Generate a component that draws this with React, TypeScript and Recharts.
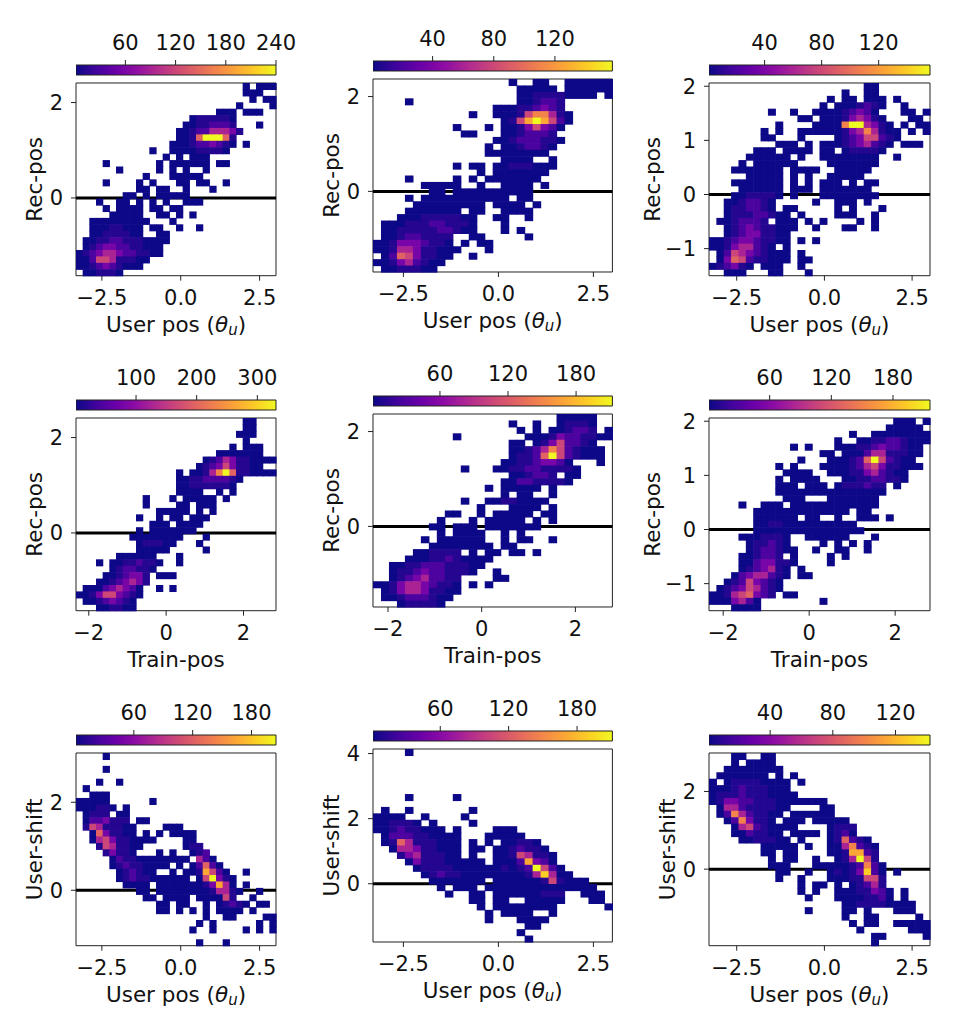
import React from 'react';
import { ScatterChart, Scatter, XAxis, YAxis, ReferenceLine, ReferenceArea } from 'recharts';

// histogram rows, top to bottom, 30 columns each
// token "c:levels" = run of levels from column c (0 = lowest bin, a = top), "a-b" = run of lowest bins
const userRecA = [
  '25 27-29', '25-27', '26 28-29', '24 29', '21-23 25-27', '17:0111110', '16:00112221 27', '15:0012244431',
  '15:0016aaa61', '14:0001223210 25', '11 14:000011110', '13 15 17-19', '4 12 14-19 21-22', '6 12 14 16 19',
  '10 14-18', '4 9 11 15-16 18-19 22', '9-10 12-13 16 20', '7-8 10 12-16', '3 6-7 9 11 13 16-18',
  '4 6-9 11-12 14-15', '5-9 12-13 15 17', '2-10 14', '2:00011000 11-12 15 18', '2:00111100 12-13',
  '1:0011221110000', '1:012332211000', '0:0123443221100', '0:00255411100', '0:0012321000', '1:001110',
];
const userRecB = [
  '17 20-21 24-29', '18-22 24-29', '18:001111 24-27 29', '4 18:001221', '15:000112321', '12 15:0001577410',
  '16:0158a8520', '10 14 16:00135320', '11-12 16:0012221', '15:001222110', '14 16:0012210', '14-21', '16-19 22',
  '10 12-13 15:00111000', '13 15-21', '4 10 12 14-20', '6-10 13 16-19 21', '7-8 10-19', '4 6-16 18-19',
  '5-13 15-18 20', '4-10 12-13 16-19', '3:0001111100 15-16 19', '1:000111221110 16', '1:001111122100 16 18',
  '1:001221111 12-13 19', '0:0013332110 11 13-14', '0:00144311000 14', '1:026531100 12', '0:001342100', '1:0011100',
];
const userRecC = [
  '21-22', '18 21-22', '16 18-19 21-23 25', '15 17:0001210 26', '8 11 14:000012320 26-27 29', '12-13 15:000134310 27-28',
  '9 14:00007aa4310 26 28-29', '7 9 12-16 17:0134741 24-25 27 29', '7-8 12 17:012355210', '9-11 13 15:0001234210 26-28',
  '6-8 10-13 15-16 18:011110', '5-10 12 15-22 25', '4 6-11 16-22', '3-9 11-14 17-21', '5-9 11 13 16-20',
  '3-9 11 13 15-17 19 21-22', '4-9 11-13 15-21', '3:0011110 11 15-22', '2:0012210 14 17-19 21', '2:0112210 10-11 17 19 23',
  '2:011122100 12 17-19 22', '1:0012221 9-11 13 15 20 22', '2:0123211000 14 18-19 22', '2:012331100',
  '0:00123321100 12 14', '0:001344210 10', '1:0254321000 12', '1:0365211000 12-13', '0:012310 7-9 12', '2-4 8-9 13',
];
const trainRecA = [
  '25-26', '25-26', '24-26', '25', '23 25-27', '21-27', '19:01243110000', '18:0123531100', '15 17:00147a6110000',
  '15:0011222210', '15:001111110', '15-18 21 23', '10 14 16-20 22', '10 15-16 18-20', '12-16 18 20', '9 12 14-15 17-19',
  '11-13 15-18', '9 11-17', '8-15 19', '9:011100 18', '9-13 19', '6-11 15', '3 5:00112110 15', '5:0122110',
  '4:0012331 12-14', '3:00123431', '1:000234320 12 14', '0:0013553210', '1:00123210', '3:001100',
];
const trainRecB = [
  '23-27', '17 20 23:01110', '18 20 22:001221 29', '10 19:00013221100', '17-18 20:01352210', '17:001247521000',
  '17:01126a521000', '16:001123320 28', '11 15:00112211110', '17:001221 24-25', '16:002211110', '14 16-20 22',
  '16 18-19 22', '11 14:00110000', '13 17-20 22', '9-10 13 15-19 21-22', '8 12 14-18 20 22', '7-8 10-12 14-20',
  '8 10-13 16 18', '6 8-13 16 18-19 22', '7-14 16-17', '5:001111 12 14-15 17-18 20', '4:00011210000', '2:001122211100',
  '2:01123221110 15', '2:012342211 15-16', '0:00134432110 12 14', '1:0134431100', '1:001222100', '3:011110',
];
const trainRecC = [
  '25-27 29', '24-28', '19 22-29', '17 20:0011221000', '11 13 17:000112322100', '15-16 18:00024411100',
  '12 16:000126a52100', '9 11 15:00001245311000', '10-13 16:00011342100', '9 11-14 18:001122110',
  '9-11 13-15 17:0111211 25', '9-23', '10-12 16-22', '4 7-9 11-22', '6-18 20-21', '6-11 13-14 17 20-22 24',
  '6:00110000 14-19', '6-20', '4:0001110 13-18 22', '5:011210 15 17 19 21', '5:0122100 14 17-18 21',
  '4:001221 11 16 18', '4:00233110 16', '4:0123410 12', '3:02344210 12-13', '2:01253210', '1:012354210',
  '0:001456321 10-11', '0:0003420 15', '3-6',
];
const userShiftA = [
  '4', '', '4', '', '3 6', '1', '2-4', '0-4 11', '0:000110 7', '1:0111 6-7', '1:0223111 9-10', '1:15411100 13-15',
  '2:0631100 10 12 14-17', '2:0453110000 16-17', '3:1541100 16:011', '4:13110 12 14 17:012', '5:0211 9-16 18:420',
  '5:012110000 15 17:02620', '6:012100 14 16:0018520 25', '6:01211000000 18:05a310', '7-10 12-18 19:13840 25',
  '9-10 12-19 20:14410 27', '10-11 13-16 18:000051 26', '12-13 15-16 19 21:01210 27-28', '12-13 15 17 19 21-24 26',
  '19 22-23 28-29', '18 20 27 29', '17 20 25 27 29', '', '18 22',
];
const userShiftB = [
  '4', '', '', '', '', '', '', '4 10', '', '1 4 12', '0-3 6 11', '0:001110 7 12', '0:001211000 10 15-17',
  '1:0222110000 14-18', '1:0164111000 12 14 16:00110', '2:044311000 12-13 15:0012110', '3:13411100 12 15:00154110',
  '4:0311100000 15:00028320', '5:011110000001012a520', '6:0121100000000149400', '7-13 15:000000151000',
  '8 10-12 14-27', '9 12-13 15:000000111 26-28', '12-13 15-16 19-23 27-28', '13 15-22 29', '14 16-19 22',
  '14 18-21', '19-20', '18', '19',
];
const userShiftC = [
  '3-4 7-8', '3 5-8', '2-9', '1-7 9 11', '0 2:011110000 12', '0:00012111000', '0:011121110000', '0:0133221110000000',
  '1:0442111100 15-16', '1:027421100 11-16', '2:0273110 10-12 14-18', '3:0452100 10-11 16:0111', '3:0021100 11-14 16:0120',
  '4:0011100 12 16:016210', '7-11 13 16:0047210', '7-8 10-11 16:0018821', '8 10-11 14 17:014a51',
  '8-10 14:0000012720', '9-10 13 16:01013920 25', '9 12 16:00011551', '12 14-15 17 19:01241', '12 14 17:00011320 26',
  '13 17:00001120 26', '18:0011110 25-27', '13 18-19 21 25-27', '18 21-22 28', '19 21-22 25-29', '20 27-29', '22-23 29', '22',
];

// share of the colour range for each level char
const levelShare = [0, 0.05, 0.13, 0.24, 0.38, 0.5, 0.6, 0.7, 0.8, 0.9, 1];

const userPosTicks = [-2.5, 0, 2.5];
const trainPosTicks = [-2, 0, 2];
const recTicksWide = [0, 2];
const recTicksNarrow = [-1, 0, 1, 2];
const shiftTicksA = [0, 2];
const shiftTicksB = [0, 2, 4];
const barTicks60 = [60, 120, 180, 240];
const barTicks40 = [40, 80, 120];
const barTicks100 = [100, 200, 300];
const barTicks60Short = [60, 120, 180];

const plasma = ['#0d0887', '#41049d', '#6a00a8', '#8f0da4', '#b12a90', '#cc4778', '#e16462', '#f2844b', '#fca636', '#fcce25', '#f0f921'];

const hexToRgb = (h: string) => [1, 3, 5].map((i) => parseInt(h.slice(i, i + 2), 16));
const plasmaColor = (t: number) => {
  const p = Math.min(Math.max(t, 0), 1) * (plasma.length - 1);
  const i = Math.min(Math.floor(p), plasma.length - 2);
  const a = hexToRgb(plasma[i]);
  const b = hexToRgb(plasma[i + 1]);
  const c = a.map((v, k) => Math.round(v + (b[k] - v) * (p - i)));
  return `rgb(${c[0]},${c[1]},${c[2]})`;
};

const parseRow = (row: string) => {
  const out: [number, number][] = [];
  row.split(' ').filter(Boolean).forEach((tok) => {
    if (tok.includes(':')) {
      const [c, lv] = tok.split(':');
      [...lv].forEach((ch, i) => out.push([Number(c) + i, parseInt(ch, 16)]));
    } else {
      const [a, b] = tok.split('-').map(Number);
      for (let c = a; c <= (b ?? a); c++) out.push([c, 0]);
    }
  });
  return out;
};

const buildCells = (rows: string[], xd: number[], yd: number[], vd: number[]) => {
  const dx = (xd[1] - xd[0]) / 30;
  const dy = (yd[1] - yd[0]) / 30;
  const cells: { x: number; y: number; count: number; fill: string }[] = [];
  rows.forEach((row, r) => {
    parseRow(row).forEach(([c, level]) => {
      const count = Math.max(vd[0], levelShare[level] * vd[1]);
      cells.push({
        x: xd[0] + (c + 0.5) * dx,
        y: yd[1] - (r + 0.5) * dy,
        count,
        fill: plasmaColor((count - vd[0]) / (vd[1] - vd[0])),
      });
    });
  });
  return cells;
};

const FONT = '"DejaVu Sans", sans-serif';
const FS = 21;
const fmtTick = (v: number, dec: number) => v.toFixed(dec).replace('-', '\u2212');

type PanelProps = {
  id: string; rows: string[]; left: number; top: number; w: number; h: number; barTop: number;
  xDomain: number[]; yDomain: number[]; vDomain: number[]; xTicks: number[]; yTicks: number[]; barTicks: number[];
  xTitle: string; yTitle: string; yTitleGap?: number;
};

const Panel = (p: PanelProps) => {
  const cells = buildCells(p.rows, p.xDomain, p.yDomain, p.vDomain);
  const cw = p.w / 30;
  const ch = p.h / 30;
  const gap = p.yTitleGap ?? 34;
  const pad = 70;
  const topPad = 15;
  const decimals = p.xTicks.some((t) => t % 1 !== 0) ? 1 : 0;
  const barPoints = p.barTicks.map((t) => ({ x: t, y: 0.5 }));
  return (
    <>
      <div style={{ position: 'absolute', left: p.left, top: p.barTop - 44 }}>
        <ScatterChart width={p.w + 34} height={56} margin={{ top: 0, right: 34, left: 0, bottom: 2 }} data={barPoints}>
          <defs>
            <linearGradient id={`bar-${p.id}`} x1="0" x2="1" y1="0" y2="0">
              {plasma.map((c, i) => <stop key={c} offset={i / (plasma.length - 1)} stopColor={c} />)}
            </linearGradient>
          </defs>
          <XAxis
            orientation="top"
            type="number"
            dataKey="x"
            domain={p.vDomain}
            ticks={p.barTicks}
            interval={0}
            height={44}
            tickSize={5}
            tickMargin={10}
            axisLine={false}
            tick={{ fontSize: FS, fill: '#111', fontFamily: FONT }}
            tickLine={{ stroke: '#222' }}
          />
          <YAxis type="number" dataKey="y" hide domain={[0, 1]} />
          <Scatter data={barPoints} isAnimationActive={false} shape={() => <g />} />
          <ReferenceArea x1={p.vDomain[0]} x2={p.vDomain[1]} y1={0} y2={1} fill={`url(#bar-${p.id})`} fillOpacity={1} stroke="#222" />
        </ScatterChart>
      </div>
      <div style={{ position: 'absolute', left: p.left - pad, top: p.top - topPad }}>
        <ScatterChart width={p.w + pad + 20} height={p.h + topPad + 65} margin={{ top: topPad, right: 20, left: 0, bottom: 0 }}>
          <XAxis
            type="number"
            dataKey="x"
            domain={p.xDomain}
            ticks={p.xTicks}
            interval={0}
            height={65}
            tickSize={5}
            tickMargin={9}
            axisLine={false}
            tickFormatter={(v: number) => fmtTick(v, decimals)}
            tick={{ fontSize: FS, fill: '#111', fontFamily: FONT }}
            tickLine={{ stroke: '#222' }}
          />
          <YAxis
            type="number"
            dataKey="y"
            domain={p.yDomain}
            ticks={p.yTicks}
            interval={0}
            width={pad}
            tickSize={5}
            tickMargin={8}
            axisLine={false}
            tickFormatter={(v: number) => fmtTick(v, 0)}
            tick={{ fontSize: FS, fill: '#111', fontFamily: FONT }}
            tickLine={{ stroke: '#222' }}
          />
          <Scatter
            data={cells}
            isAnimationActive={false}
            shape={(s: any) => (
              <rect x={s.cx - cw / 2} y={s.cy - ch / 2} width={cw + 0.6} height={ch + 0.6} fill={s.payload.fill} />
            )}
          />
          <ReferenceLine y={0} stroke="#000" strokeWidth={3} />
          <ReferenceArea x1={p.xDomain[0]} x2={p.xDomain[1]} y1={p.yDomain[0]} y2={p.yDomain[1]} fill="none" stroke="#222" />
          <text x={pad + p.w / 2} y={p.h + topPad + 56} textAnchor="middle" fontSize={FS + 0.5} fill="#111" fontFamily={FONT}>
            {p.xTitle === 'user' ? (
              <>
                User pos (<tspan fontStyle="italic">{'\u03b8'}</tspan>
                <tspan fontStyle="italic" fontSize={15} dy={3}>u</tspan>
                <tspan dy={-3}>)</tspan>
              </>
            ) : p.xTitle}
          </text>
          <text
            transform={`translate(${pad - gap},${topPad + p.h / 2}) rotate(-90)`}
            textAnchor="middle"
            fontSize={FS + 0.5}
            fill="#111"
            fontFamily={FONT}
          >
            {p.yTitle}
          </text>
        </ScatterChart>
      </div>
    </>
  );
};

const colA = { left: 76, w: 200 };
const colB = { left: 373.3, w: 239.4 };
const colC = { left: 709, w: 221 };

export default function App() {
  return (
    <div style={{ position: 'absolute', left: 0, top: 0, width: 976, height: 1017, background: '#fff', overflow: 'hidden' }}>
      <Panel id="a" rows={userRecA} {...colA} top={82.7} h={192.7} barTop={65} xDomain={[-3.32, 3.02]} yDomain={[-1.63, 2.41]} vDomain={[1, 240]}
        xTicks={userPosTicks} yTicks={recTicksWide} barTicks={barTicks60} xTitle="user" yTitle="Rec-pos" />
      <Panel id="b" rows={userRecB} {...colB} top={78.7} h={193} barTop={61.3} xDomain={[-3.3, 3.0]} yDomain={[-1.7, 2.37]} vDomain={[1, 157.6]}
        xTicks={userPosTicks} yTicks={recTicksWide} barTicks={barTicks40} xTitle="user" yTitle="Rec-pos" />
      <Panel id="c" rows={userRecC} {...colC} top={82.7} h={192.7} barTop={65} xDomain={[-3.29, 3.01]} yDomain={[-1.5, 2.06]} vDomain={[1, 156]}
        xTicks={userPosTicks} yTicks={recTicksNarrow} barTicks={barTicks40} xTitle="user" yTitle="Rec-pos" yTitleGap={49} />
      <Panel id="d" rows={trainRecA} {...colA} top={417.7} h={192.7} barTop={400} xDomain={[-2.33, 2.84]} yDomain={[-1.63, 2.41]} vDomain={[1, 330.8]}
        xTicks={trainPosTicks} yTicks={recTicksWide} barTicks={barTicks100} xTitle="Train-pos" yTitle="Rec-pos" />
      <Panel id="e" rows={trainRecB} {...colB} top={413.7} h={193} barTop={396.3} xDomain={[-2.32, 2.79]} yDomain={[-1.7, 2.37]} vDomain={[1, 212]}
        xTicks={trainPosTicks} yTicks={recTicksWide} barTicks={barTicks60Short} xTitle="Train-pos" yTitle="Rec-pos" />
      <Panel id="f" rows={trainRecC} {...colC} top={417.7} h={192.7} barTop={400} xDomain={[-2.33, 2.81]} yDomain={[-1.5, 2.06]} vDomain={[1, 216]}
        xTicks={trainPosTicks} yTicks={recTicksNarrow} barTicks={barTicks60Short} xTitle="Train-pos" yTitle="Rec-pos" yTitleGap={49} />
      <Panel id="g" rows={userShiftA} {...colA} top={752.7} h={192.7} barTop={735} xDomain={[-3.32, 3.02]} yDomain={[-1.26, 3.12]} vDomain={[1, 205]}
        xTicks={userPosTicks} yTicks={shiftTicksA} barTicks={barTicks60Short} xTitle="user" yTitle="User-shift" />
      <Panel id="h" rows={userShiftB} {...colB} top={748.7} h={193} barTop={731.3} xDomain={[-3.3, 3.0]} yDomain={[-1.79, 4.14]} vDomain={[1, 211]}
        xTicks={userPosTicks} yTicks={shiftTicksB} barTicks={barTicks60Short} xTitle="user" yTitle="User-shift" />
      <Panel id="i" rows={userShiftC} {...colC} top={752.7} h={192.7} barTop={735} xDomain={[-3.29, 3.01]} yDomain={[-1.97, 2.99]} vDomain={[1, 142]}
        xTicks={userPosTicks} yTicks={shiftTicksA} barTicks={barTicks40} xTitle="user" yTitle="User-shift" />
    </div>
  );
}
